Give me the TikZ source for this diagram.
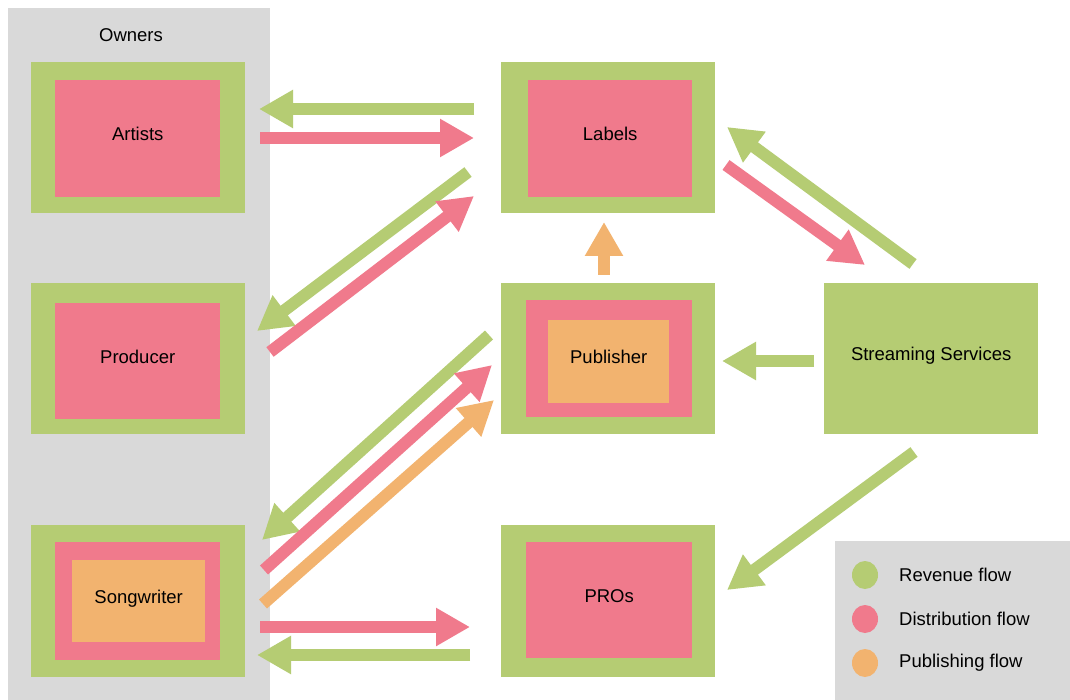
\documentclass[tikz,border=0pt]{standalone}
\usepackage{fontspec}
\setmainfont{Liberation Sans}
\usetikzlibrary{arrows.meta,shapes.geometric}
\definecolor{rev}{HTML}{B5CC73}
\definecolor{dist}{HTML}{F07A8C}
\definecolor{pub}{HTML}{F2B36F}
\definecolor{panel}{HTML}{D9D9D9}
\begin{document}
\begin{tikzpicture}[x=1pt,y=-1pt,
  lbl/.style={font=\fontsize{18.5}{22}\selectfont, text=black},
  boxlbl/.style={lbl, text height=14pt, text depth=10pt},
  outerbox/.style={fill=rev, draw=none, inner sep=0pt, minimum width=214pt, minimum height=151pt, anchor=north west},
  innerbox/.style={fill=dist, draw=none, inner sep=0pt, anchor=north west, boxlbl},
  pubbox/.style={fill=pub, draw=none, inner sep=0pt, anchor=north west, boxlbl},
  flow/.style={line width=12pt, -{Triangle[width=36pt,length=34pt]}},
  revflow/.style={flow, draw=rev},
  distflow/.style={flow, draw=dist},
  pubflow/.style={flow, draw=pub},
  legdot/.style={fill=#1, draw=none, ellipse, minimum width=26pt, minimum height=28pt, inner sep=0pt}
]
\useasboundingbox (0,0) rectangle (1070,700);
\fill[white] (0,0) rectangle (1070,700);
% owners panel
\node[fill=panel, inner sep=0pt, minimum width=262pt, minimum height=692pt, anchor=north west] (owners) at (8,8) {};
\node[lbl] (ownerslbl) at (131,35) {Owners};
% Artists
\node[outerbox] (artistsO) at (31,62) {};
\node[innerbox, minimum width=165pt, minimum height=117pt] (artists) at (55,80) {Artists};
% Producer
\node[outerbox] (producerO) at (31,283) {};
\node[innerbox, minimum width=165pt, minimum height=116pt] (producer) at (55,303) {Producer};
% Songwriter
\node[outerbox, minimum height=152pt] (songwriterO) at (31,525) {};
\node[innerbox, minimum width=165pt, minimum height=118pt] (songwriterP) at (55,542) {};
\node[pubbox, minimum width=133pt, minimum height=82pt] (songwriter) at (72,560) {Songwriter};
% Labels
\node[outerbox] (labelsO) at (501,62) {};
\node[innerbox, minimum width=164pt, minimum height=117pt] (labels) at (528,80) {Labels};
% Publisher
\node[outerbox] (publisherO) at (501,283) {};
\node[innerbox, minimum width=166pt, minimum height=117pt] (publisherP) at (526,300) {};
\node[pubbox, minimum width=121pt, minimum height=83pt] (publisher) at (548,320) {Publisher};
% PROs
\node[outerbox, minimum height=152pt] (prosO) at (501,525) {};
\node[innerbox, minimum width=166pt, minimum height=116pt] (pros) at (526,542) {PROs};
% Streaming
\node[outerbox, boxlbl] (streaming) at (824,283) {Streaming Services};
% legend
\node[fill=panel, inner sep=0pt, minimum width=235pt, minimum height=159pt, anchor=north west] (legend) at (835,541) {};
\node[legdot=rev] (ldot1) at (865,575) {};
\node[legdot=dist] (ldot2) at (865,619) {};
\node[legdot=pub] (ldot3) at (865,663) {};
\node[lbl, anchor=west, inner sep=0pt] (ltext1) at (899,575) {Revenue flow};
\node[lbl, anchor=west, inner sep=0pt] (ltext2) at (899,619) {Distribution flow};
\node[lbl, anchor=west, inner sep=0pt] (ltext3) at (899,663) {Publishing flow};
% arrow endpoints
\coordinate (al1) at (474,109); \coordinate (al2) at (259,109);
\coordinate (al3) at (260,138); \coordinate (al4) at (474,138);
\coordinate (lp1) at (468,172); \coordinate (lp2) at (257,331);
\coordinate (lp3) at (270,352); \coordinate (lp4) at (474,196);
\coordinate (ps1) at (489,335); \coordinate (ps2) at (262,540);
\coordinate (ps3) at (264,570); \coordinate (ps4) at (492,365);
\coordinate (ps5) at (263,604); \coordinate (ps6) at (494,400);
\coordinate (sp1) at (260,627); \coordinate (sp2) at (470,627);
\coordinate (sp3) at (470,655); \coordinate (sp4) at (257,655);
\coordinate (ls1) at (913,264); \coordinate (ls2) at (727,127);
\coordinate (ls3) at (726,165); \coordinate (ls4) at (865,265);
\coordinate (sr1) at (914,452); \coordinate (sr2) at (727,590);
\coordinate (spub1) at (814,361); \coordinate (spub2) at (722,361);
\coordinate (pl1) at (604,275); \coordinate (pl2) at (604,222);
% arrows
\draw[revflow] (al1) -- (al2);
\draw[distflow] (al3) -- (al4);
\draw[revflow] (lp1) -- (lp2);
\draw[distflow] (lp3) -- (lp4);
\draw[revflow] (ps1) -- (ps2);
\draw[distflow] (ps3) -- (ps4);
\draw[pubflow] (ps5) -- (ps6);
\draw[distflow] (sp1) -- (sp2);
\draw[revflow] (sp3) -- (sp4);
\draw[revflow] (ls1) -- (ls2);
\draw[distflow] (ls3) -- (ls4);
\draw[revflow] (sr1) -- (sr2);
\draw[revflow] (spub1) -- (spub2);
\draw[pubflow] (pl1) -- (pl2);
\end{tikzpicture}
\end{document}
